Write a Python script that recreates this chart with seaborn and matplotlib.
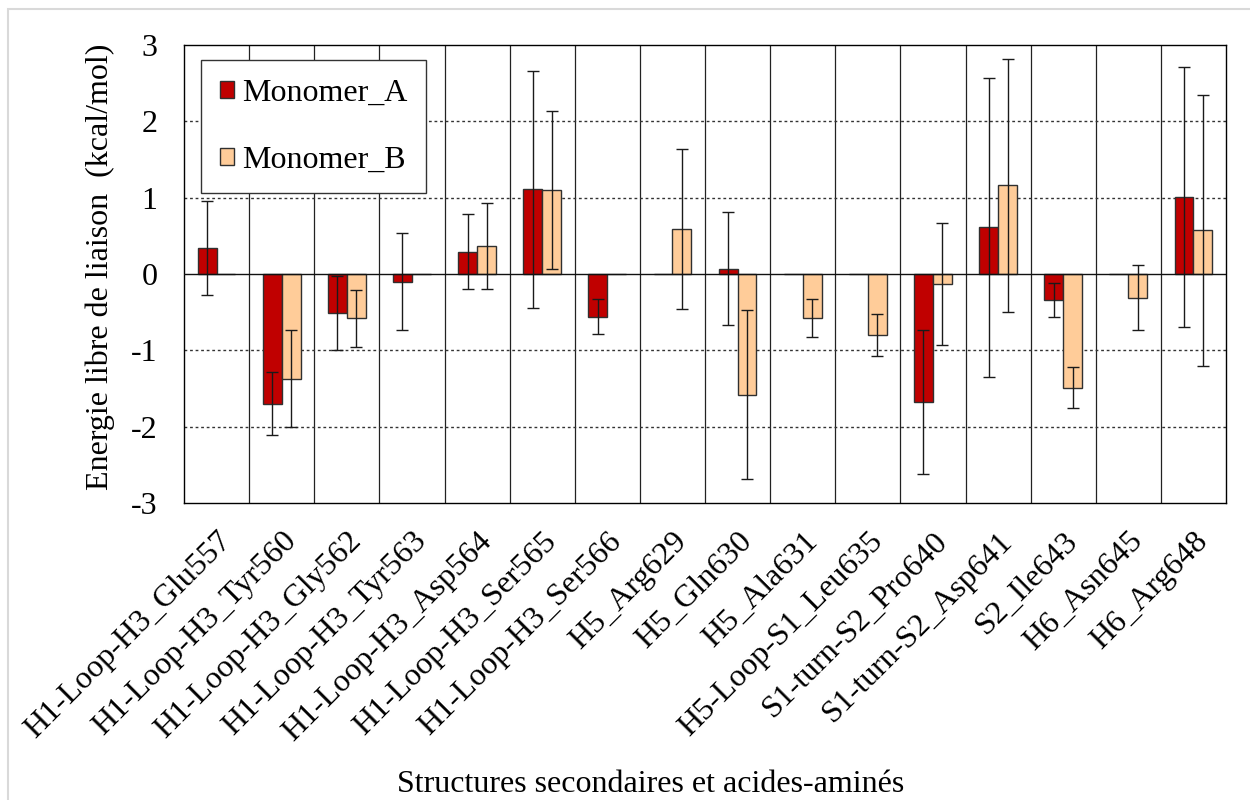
import numpy as np
import pandas as pd
import matplotlib
matplotlib.use("Agg")
import matplotlib.pyplot as plt
from matplotlib.patches import Rectangle
import seaborn as sns

# Residues grouped by secondary structure
residues = [
    "H1-Loop-H3_Glu557", "H1-Loop-H3_Tyr560", "H1-Loop-H3_Gly562",
    "H1-Loop-H3_Tyr563", "H1-Loop-H3_Asp564", "H1-Loop-H3_Ser565",
    "H1-Loop-H3_Ser566", "H5_Arg629", "H5_Gln630", "H5_Ala631",
    "H5-Loop-S1_Leu635", "S1-turn-S2_Pro640", "S1-turn-S2_Asp641",
    "S2_Ile643", "H6_Asn645", "H6_Arg648",
]

# Binding free energy per residue (kcal/mol)
energy_a = [0.34, -1.70, -0.51, -0.10, 0.29, 1.11, -0.56, 0.00,
            0.07, 0.00, 0.00, -1.68, 0.61, -0.34, 0.00, 1.01]
energy_b = [0.00, -1.37, -0.58, 0.00, 0.37, 1.10, 0.00, 0.59,
            -1.58, -0.58, -0.80, -0.13, 1.16, -1.49, -0.31, 0.57]

# Standard deviations
err_a = [0.62, 0.41, 0.48, 0.64, 0.49, 1.55, 0.23, 0.00,
         0.74, 0.00, 0.00, 0.94, 1.96, 0.22, 0.00, 1.70]
err_b = [0.00, 0.63, 0.37, 0.00, 0.56, 1.04, 0.00, 1.05,
         1.11, 0.25, 0.27, 0.80, 1.66, 0.27, 0.43, 1.77]

series = ["Monomer_A", "Monomer_B"]
colors = ["#C00000", "#FFCC99"]
y_ticks = [-3, -2, -1, 0, 1, 2, 3]

df = pd.DataFrame({
    "residue": residues * 2,
    "monomer": [series[0]] * len(residues) + [series[1]] * len(residues),
    "energy": energy_a + energy_b,
})

sns.set_theme(style="white")
plt.rcParams["font.family"] = ["Liberation Serif", "DejaVu Serif"]
plt.rcParams["axes.unicode_minus"] = False
for key in ("text.color", "axes.labelcolor", "xtick.color", "ytick.color"):
    plt.rcParams[key] = "black"

fig = plt.figure(figsize=(12.5, 8), dpi=100)
ax = fig.add_axes([184 / 1250, 1 - 503 / 800, 1042 / 1250, 458 / 800])

sns.barplot(data=df, x="residue", y="energy", hue="monomer",
            palette=colors, saturation=1, width=0.58, gap=0, errorbar=None,
            edgecolor="#303030", linewidth=1.0, ax=ax, zorder=3,
            legend=False)

# error bars centred on each bar, at the bar's value
for container, vals, errs in zip(ax.containers, [energy_a, energy_b],
                                  [err_a, err_b]):
    for bar, v, e in zip(container.patches, vals, errs):
        if e <= 0:
            continue
        xc = bar.get_x() + bar.get_width() / 2
        ax.errorbar(xc, v, yerr=e, fmt="none", ecolor="#1a1a1a",
                    elinewidth=1.0, capsize=4.3, capthick=1.0, zorder=4)

ax.set_xlim(-0.5, len(residues) - 0.5)
ax.set_ylim(-3, 3)
ax.set_yticks(y_ticks)
ax.set_yticklabels([str(t) for t in y_ticks])

# category separators and dotted horizontal grid
for k in range(len(residues) - 1):
    ax.axvline(k + 0.5, color="#222222", lw=0.9, zorder=1)
for t in y_ticks:
    if t in (-3, 0, 3):
        continue
    ax.axhline(t, color="#333333", lw=1.0, ls=(0, (2, 2)), zorder=1)
ax.axhline(0, color="#111111", lw=1.0, zorder=5)

for s in ax.spines.values():
    s.set_visible(True)
    s.set_color("black")
    s.set_linewidth(1.0)

ax.tick_params(axis="y", length=0, pad=19, labelsize=23)
ax.tick_params(axis="x", length=0, pad=17, labelsize=23)
plt.setp(ax.get_xticklabels(), rotation=45, ha="right", va="top",
         rotation_mode="anchor")

ax.set_xlabel("")
ax.set_ylabel("Energie libre de liaison  (kcal/mol)", fontsize=23)
ax.yaxis.set_label_coords(-0.066, 0.515)

fig.text(651 / 1250, 1 - 785 / 800, "Structures secondaires et acides-aminés",
         fontsize=23, ha="center", va="center")

handles = [Rectangle((0, 0), 1, 1, facecolor=c, edgecolor="#303030", lw=1.0)
           for c in colors]
leg = ax.legend(handles, series, loc="upper left",
                bbox_to_anchor=(17 / 1042, 1 - 15 / 458), borderaxespad=0,
                fontsize=23, frameon=True, fancybox=False, framealpha=1,
                edgecolor="#333333", handlelength=0.45, handleheight=0.45,
                handletextpad=0.25, labelspacing=1.2, borderpad=0.58)
leg.get_frame().set_linewidth(1.0)
leg.set_zorder(10)

# light outer chart-area border
fig.add_artist(Rectangle((8 / 1250, -0.05), 1.2, 1 - 8.5 / 800 + 0.05,
                         transform=fig.transFigure, fill=False,
                         edgecolor="#d9d9d9", lw=1.5))

fig.savefig("out.png", dpi=100)
